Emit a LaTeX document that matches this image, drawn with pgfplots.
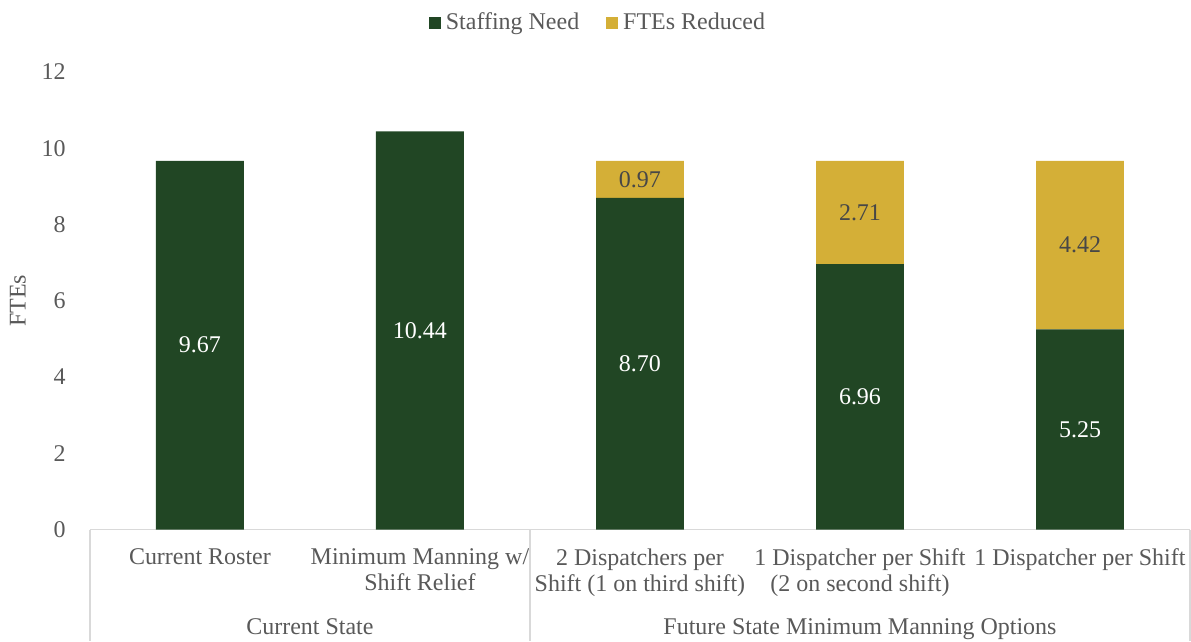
\documentclass[border=0pt]{standalone}
\usepackage{pgfplots}
\pgfplotsset{compat=1.18}
\usepackage{fontspec}
\setmainfont{Liberation Serif}
\definecolor{need}{HTML}{214624}
\definecolor{cut}{HTML}{D4AF37}
\definecolor{txt}{HTML}{595959}
\definecolor{rule}{HTML}{D9D9D9}
\newcommand{\chartfont}{\fontsize{12bp}{13bp}\selectfont}
\pgfplotsset{sq legend/.style={legend image code/.code={\fill[##1] (0bp,-3bp) rectangle (6bp,3bp);}}}
\begin{document}
\begin{tikzpicture}
\begin{axis}[
    name=ax,
    scale only axis,
    width=550.5bp, height=229bp,
    ybar stacked, bar width=44bp,
    xmin=-0.5, xmax=4.5, ymin=0, ymax=12,
    xtick={0,...,4},
    xticklabels={Current Roster, {Minimum Manning w/\\Shift Relief}, {2 Dispatchers per\\Shift (1 on third shift)}, {1 Dispatcher per Shift\\(2 on second shift)}, 1 Dispatcher per Shift},
    ytick={0,2,...,12},
    tick style={draw=none},
    axis line style={draw=none},
    xticklabel style={align=center, anchor=north, inner sep=0pt, yshift=-9.5bp, font=\chartfont, text=txt},
    yticklabel style={anchor=east, inner sep=0pt, xshift=-12bp, font=\chartfont, text=txt},
    /pgf/number format/assume math mode=true,
    ylabel={FTEs},
    ylabel style={at={(axis description cs:-0.0654,0.5)}, anchor=center, font=\chartfont, text=txt},
    legend style={at={(axis description cs:0.4632,1.107)}, anchor=center, draw=none, fill=none,
        legend columns=2, font=\chartfont, text=txt,
        nodes={inner sep=2.5bp},
        /tikz/every even column/.append style={column sep=11bp}},
    clip=false,
]
\addplot[fill=need, draw=none, sq legend] coordinates {(0,9.67) (1,10.44) (2,8.70) (3,6.96) (4,5.25)};
\addlegendentry{Staffing Need}
\addplot[fill=cut, draw=none, sq legend] coordinates {(0,0) (1,0) (2,0.97) (3,2.71) (4,4.42)};
\addlegendentry{FTEs Reduced}

% category box
\draw[rule, line width=0.75bp] (rel axis cs:0,0) -- (rel axis cs:1,0);
\draw[rule, line width=0.75bp] (axis cs:-0.5,0) -- ([yshift=-56bp]axis cs:-0.5,0);
\draw[rule, line width=0.75bp] (axis cs:1.5,0) -- ([yshift=-56bp]axis cs:1.5,0);
\draw[rule, line width=0.75bp] (axis cs:4.5,0) -- ([yshift=-56bp]axis cs:4.5,0);
\node[anchor=base, font=\chartfont, text=txt] at ([yshift=-52.5bp]axis cs:0.5,0) {Current State};
\node[anchor=base, font=\chartfont, text=txt] at ([yshift=-52.5bp]axis cs:3,0) {Future State Minimum Manning Options};

% value label positions (segment middles)
\coordinate (n0) at (axis cs:0,4.835);
\coordinate (n1) at (axis cs:1,5.22);
\coordinate (n2) at (axis cs:2,4.35);
\coordinate (n3) at (axis cs:3,3.48);
\coordinate (n4) at (axis cs:4,2.625);
\coordinate (r2) at (axis cs:2,9.185);
\coordinate (r3) at (axis cs:3,8.315);
\coordinate (r4) at (axis cs:4,7.46);
\end{axis}
\node[font=\chartfont, text=white] at (n0) {9.67};
\node[font=\chartfont, text=white] at (n1) {10.44};
\node[font=\chartfont, text=white] at (n2) {8.70};
\node[font=\chartfont, text=white] at (n3) {6.96};
\node[font=\chartfont, text=white] at (n4) {5.25};
\node[font=\chartfont, text=txt!80!black] at (r2) {0.97};
\node[font=\chartfont, text=txt!80!black] at (r3) {2.71};
\node[font=\chartfont, text=txt!80!black] at (r4) {4.42};
\pgfresetboundingbox
\path[use as bounding box] ([shift={(-45bp,-56bp)}]ax.south west) rectangle ([shift={(0.5bp,36bp)}]ax.north east);
\end{tikzpicture}
\end{document}
